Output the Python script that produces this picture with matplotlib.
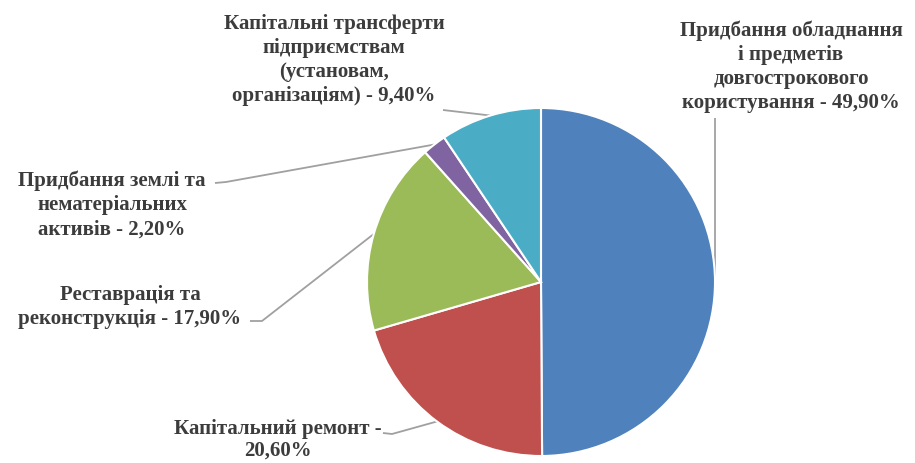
import numpy as np
import matplotlib
matplotlib.use("Agg")
import matplotlib.pyplot as plt

categories = [
    "Придбання обладнання\nі предметів\nдовгострокового\nкористування - 49,90%",
    "Капітальний ремонт -\n20,60%",
    "Реставрація та\nреконструкція - 17,90%",
    "Придбання землі та\nнематеріальних\nактивів - 2,20%",
    "Капітальні трансферти\nпідприємствам\n(установам,\nорганізаціям) - 9,40%",
]
values = [49.90, 20.60, 17.90, 2.20, 9.40]
colors = ["#4F81BD", "#C0504D", "#9BBB59", "#8064A2", "#4BACC6"]

W, H = 915, 463
fig = plt.figure(figsize=(W / 100, H / 100), dpi=100)
ax = fig.add_axes([0, 0, 1, 1])

cx, cy, r = 541, H - 282, 174
wedges, _ = ax.pie(values, colors=colors, startangle=90, counterclock=False,
                   center=(cx, cy), radius=r, frame=True,
                   wedgeprops=dict(edgecolor="white", linewidth=1.5))
ax.set_xlim(0, W)
ax.set_ylim(0, H)
ax.set_aspect("equal")
ax.axis("off")

# text centre (px from top-left), leader start and optional elbow (px)
layout = [
    dict(tx=791, ty=67, elbow=None, start=(715, 118), ls=1.27),
    dict(tx=278, ty=440, elbow=(392, 434), start=(383, 433), ls=1.1),
    dict(tx=130, ty=307, elbow=(262, 321), start=(250, 321), ls=1.27),
    dict(tx=112, ty=205, elbow=(226, 182), start=(215, 183), ls=1.27),
    dict(tx=334, ty=60, elbow=None, start=(443, 110), ls=1.27),
]

lc = "#a0a0a0"
for w, lab, lay in zip(wedges, categories, layout):
    ang = np.deg2rad((w.theta1 + w.theta2) / 2)
    ex, ey = cx + r * np.cos(ang), cy + r * np.sin(ang)
    ax.text(lay["tx"], H - lay["ty"], lab, ha="center", va="center",
            multialignment="center", fontsize=15, fontweight="bold",
            family="Liberation Serif", color="#3c3c3c", linespacing=lay["ls"])
    pts = [lay["start"]]
    if lay["elbow"] is not None:
        pts.append(lay["elbow"])
    xs = [p[0] for p in pts] + [ex]
    ys = [H - p[1] for p in pts] + [ey]
    ax.plot(xs, ys, color=lc, lw=1.3, solid_capstyle="butt", zorder=0)

fig.savefig("out.png", dpi=100)
